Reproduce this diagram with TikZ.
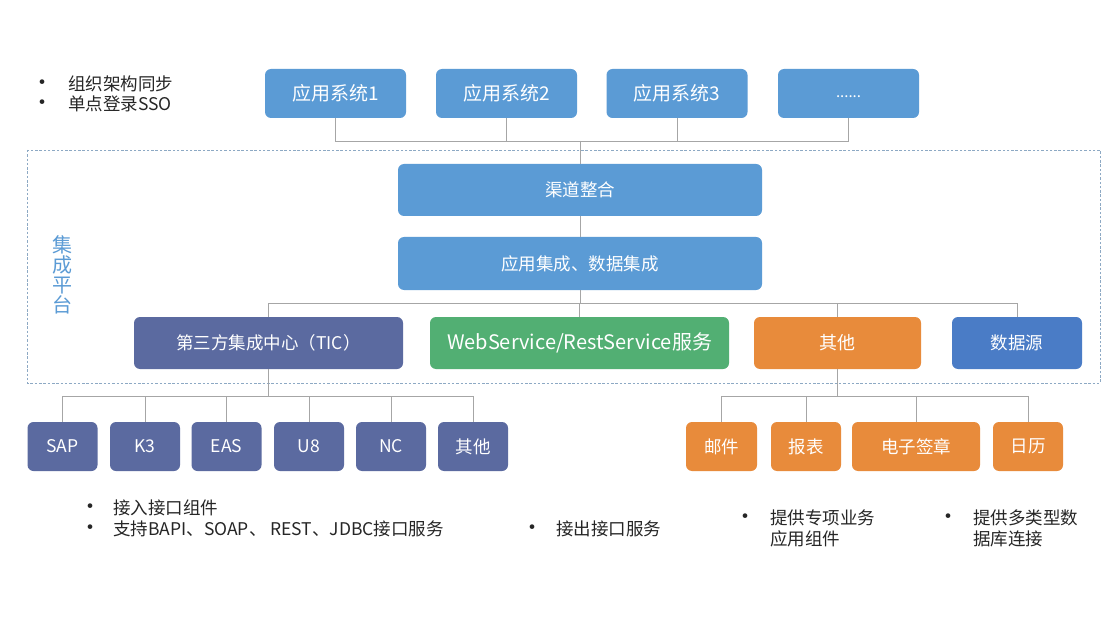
\documentclass[tikz,border=0pt]{standalone}
\usepackage{fontspec}
\setmainfont{Noto Sans CJK SC}
\definecolor{topblue}{HTML}{5B9BD5}
\definecolor{slate}{HTML}{5B6AA0}
\definecolor{grn}{HTML}{52AF73}
\definecolor{org}{HTML}{E88B3B}
\definecolor{dsblue}{HTML}{4A7CC6}
\definecolor{conn}{HTML}{A6A6A6}
\definecolor{dashc}{HTML}{8DA9C4}
\definecolor{txt}{HTML}{262626}
\begin{document}
\begin{tikzpicture}[x=1pt,y=-1pt,
  box/.style={draw=none,rounded corners=6pt,text=white,inner sep=0pt,align=center},
  connline/.style={draw=conn,line width=0.9pt},
  note/.style={text=txt,inner sep=0pt,anchor=west,align=left,font=\fontsize{17.5}{21}\selectfont},
  bul/.style={text=txt,inner sep=0pt,font=\fontsize{22}{22}\selectfont}]
\useasboundingbox (0,0) rectangle (1110,620);
\fill[white] (0,0) rectangle (1110,620);

% dashed platform frame
\draw[dashc,line width=0.9pt,dash pattern=on 2.5pt off 1.8pt] (27,150) rectangle (1100,383);
\node[text=topblue,inner sep=0pt,align=center,font=\fontsize{20}{20}\selectfont] (plat) at (62,275) {集\\成\\平\\台};

% top application boxes
\begin{scope}[every node/.style={box,fill=topblue,minimum width=141pt,minimum height=49pt,font=\fontsize{19}{22}\selectfont}]
\node (a1) at (335.5,93.5) {应用系统1};
\node (a2) at (506.5,93.5) {应用系统2};
\node (a3) at (677,93.5) {应用系统3};
\node (a4) at (848.5,93.5) {\smash{\raisebox{-4pt}{\fontsize{15}{16}\selectfont ......}}};
\end{scope}

% channel and integration
\node[box,fill=topblue,minimum width=364pt,minimum height=52pt,font=\fontsize{17.5}{21}\selectfont] (c1) at (580,190) {渠道整合};
\node[box,fill=topblue,minimum width=364pt,minimum height=53pt,font=\fontsize{17.5}{21}\selectfont] (c2) at (580,263.5) {应用集成、数据集成};

% middle row
\node[box,fill=slate,minimum width=269pt,minimum height=52pt,font=\fontsize{17.5}{21}\selectfont] (m1) at (268.5,343) {第三方集成中心（TIC）};
\node[box,fill=grn,minimum width=299pt,minimum height=52pt,font=\fontsize{20}{24}\selectfont] (m2) at (579.5,343) {WebService/RestService服务};
\node[box,fill=org,minimum width=167pt,minimum height=52pt,font=\fontsize{18}{21}\selectfont] (m3) at (837.5,343) {其他};
\node[box,fill=dsblue,minimum width=130pt,minimum height=52pt,font=\fontsize{17.5}{21}\selectfont] (m4) at (1017,343) {数据源};

% left small boxes
\begin{scope}[every node/.style={box,fill=slate,minimum width=70pt,minimum height=49pt,font=\fontsize{17.5}{21}\selectfont}]
\node (s1) at (62.5,446.5) {SAP};
\node (s2) at (145,446.5) {K3};
\node (s3) at (226.5,446.5) {EAS};
\node (s4) at (309,446.5) {U8};
\node (s5) at (391,446.5) {NC};
\node (s6) at (473,446.5) {其他};
\end{scope}

% right small boxes
\begin{scope}[every node/.style={box,fill=org,minimum height=49pt,font=\fontsize{17.5}{21}\selectfont}]
\node[minimum width=71pt] (r1) at (721.5,446.5) {邮件};
\node[minimum width=70pt] (r2) at (806,446.5) {报表};
\node[minimum width=128pt] (r3) at (916,446.5) {电子签章};
\node[minimum width=70pt] (r4) at (1028,446.5) {日历};
\end{scope}

% connectors
\coordinate (bus1) at (580,141);
\draw[connline] (a1.south) |- (a4.south |- bus1) -- (a4.south);
\draw[connline] (a2.south) -- (a2.south |- bus1);
\draw[connline] (a3.south) -- (a3.south |- bus1);
\draw[connline] (bus1) -- (c1.north);
\draw[connline] (c1.south) -- (c2.north);
\coordinate (bus2) at (580,303);
\draw[connline] (c2.south) -- (bus2);
\draw[connline] (m1.north) |- (m4.north |- bus2) -- (m4.north);
\draw[connline] (m2.north) -- (m2.north |- bus2);
\draw[connline] (m3.north) -- (m3.north |- bus2);
\coordinate (bus3) at (268.5,396);
\draw[connline] (m1.south) -- (bus3);
\draw[connline] (s1.north) |- (s6.north |- bus3) -- (s6.north);
\foreach \n in {s2,s3,s4,s5} \draw[connline] (\n.north) -- (\n.north |- bus3);
\coordinate (bus4) at (837.5,396);
\draw[connline] (m3.south) -- (bus4);
\draw[connline] (r1.north) |- (r4.north |- bus4) -- (r4.north);
\foreach \n in {r2,r3} \draw[connline] (\n.north) -- (\n.north |- bus4);

% notes top-left
\node[bul] (b1) at (42,85) {•};
\node[note] (t1) at (68,84) {组织架构同步};
\node[bul] (b2) at (42,105) {•};
\node[note] (t2) at (68,104) {单点登录SSO};

% bottom notes
\node[bul] (b3) at (90,509) {•};
\node[note] (t3) at (113,508) {接入接口组件};
\node[bul] (b4) at (90,530) {•};
\node[note] (t4) at (113,529) {支持BAPI、SOAP、 REST、JDBC接口服务};
\node[bul] (b5) at (532,530) {•};
\node[note] (t5) at (556,529) {接出接口服务};
\node[bul] (b6) at (745,519) {•};
\node[note] (t6) at (770,528.5) {提供专项业务\\应用组件};
\node[bul] (b7) at (948,519) {•};
\node[note] (t7) at (973,528.5) {提供多类型数\\据库连接};
\end{tikzpicture}
\end{document}
